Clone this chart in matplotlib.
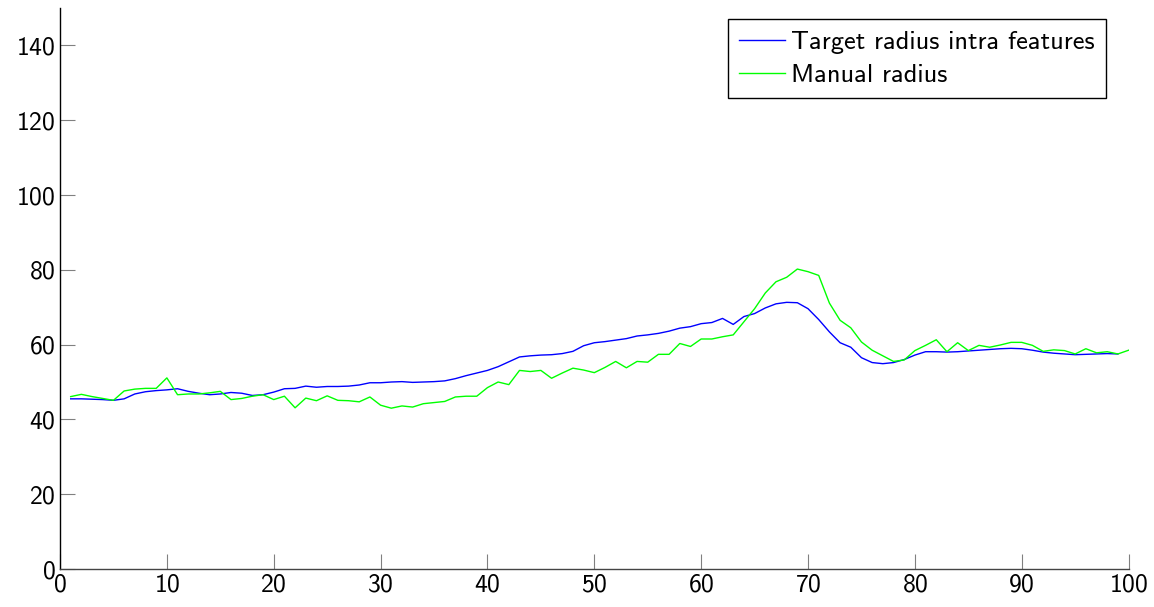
import matplotlib.pyplot as plt
import numpy as np

plt.rcParams['font.family'] = ['cmss10', 'DejaVu Sans']
plt.rcParams['axes.unicode_minus'] = False
plt.rcParams['axes.formatter.use_mathtext'] = True

# frames 1..99 for the target, 1..100 for the manual one
target_x = np.arange(1, 100)
target_radius = [
    45.5, 45.5, 45.4, 45.3, 45.1, 45.5, 46.8, 47.4, 47.7, 47.9,
    48.2, 47.5, 47.0, 46.6, 46.8, 47.2, 47.0, 46.4, 46.6, 47.3,
    48.2, 48.3, 48.9, 48.6, 48.8, 48.8, 48.9, 49.2, 49.8, 49.8,
    50.0, 50.1, 49.9, 50.0, 50.1, 50.3, 50.9, 51.7, 52.4, 53.1,
    54.1, 55.4, 56.7, 57.0, 57.2, 57.3, 57.6, 58.2, 59.7, 60.5,
    60.8, 61.2, 61.6, 62.3, 62.6, 63.0, 63.6, 64.4, 64.8, 65.6,
    65.9, 67.0, 65.4, 67.5, 68.3, 69.8, 70.9, 71.3, 71.2, 69.6,
    66.7, 63.4, 60.5, 59.3, 56.5, 55.2, 54.9, 55.2, 56.0, 57.2,
    58.1, 58.1, 58.0, 58.1, 58.3, 58.5, 58.7, 58.9, 59.0, 58.9,
    58.5, 58.0, 57.7, 57.5, 57.3, 57.4, 57.5, 57.6, 57.5,
]

manual_x = np.arange(1, 101)
manual_radius = [
    46.1, 46.7, 46.1, 45.6, 45.1, 47.6, 48.1, 48.3, 48.3, 51.1,
    46.6, 46.8, 46.8, 47.1, 47.5, 45.3, 45.6, 46.2, 46.6, 45.3,
    46.2, 43.1, 45.7, 45.0, 46.3, 45.1, 45.0, 44.7, 46.0, 43.8,
    43.0, 43.6, 43.3, 44.2, 44.5, 44.8, 46.0, 46.2, 46.2, 48.5,
    50.0, 49.3, 53.1, 52.8, 53.1, 51.0, 52.4, 53.7, 53.2, 52.5,
    53.9, 55.5, 53.8, 55.5, 55.3, 57.4, 57.4, 60.3, 59.5, 61.5,
    61.5, 62.1, 62.6, 66.1, 69.6, 73.8, 76.8, 78.0, 80.2, 79.5,
    78.5, 71.1, 66.5, 64.5, 60.7, 58.5, 57.0, 55.5, 55.9, 58.4,
    59.8, 61.3, 58.1, 60.5, 58.4, 59.8, 59.3, 59.9, 60.6, 60.6,
    59.8, 58.2, 58.6, 58.4, 57.5, 58.9, 57.8, 58.1, 57.5, 58.5,
]

fig = plt.figure(figsize=(11.54, 6.07), dpi=100)
ax = fig.add_axes([0.052, 0.0626, 0.926, 0.9242])

ax.plot(target_x, target_radius, color='#0000ff', lw=1.0, label='Target radius intra features')
ax.plot(manual_x, manual_radius, color='#00ff00', lw=1.0, label='Manual radius')

ax.set_xlim(0, 100)
ax.set_ylim(0, 150)
ax.set_xticks(np.arange(0, 101, 10))
ax.set_yticks(np.arange(0, 141, 20))

ax.spines['top'].set_visible(False)
ax.spines['right'].set_visible(False)
ax.spines['left'].set_linewidth(1.0)
ax.spines['bottom'].set_linewidth(1.0)
ax.spines['bottom'].set_color('#444444')
ax.tick_params(direction='in', length=11, width=0.8, color='#808080',
               labelsize=18.5, pad=3)

leg = ax.legend(loc='upper right', bbox_to_anchor=(0.979, 0.98), fontsize=19,
                frameon=True, fancybox=False, shadow=False, borderaxespad=0,
                handlelength=1.75, handletextpad=0.25, labelspacing=0.38,
                borderpad=0.42)
leg.get_frame().set_edgecolor('black')
leg.get_frame().set_linewidth(1.0)
leg.get_frame().set_alpha(1)

fig.savefig('out.png', dpi=100)
